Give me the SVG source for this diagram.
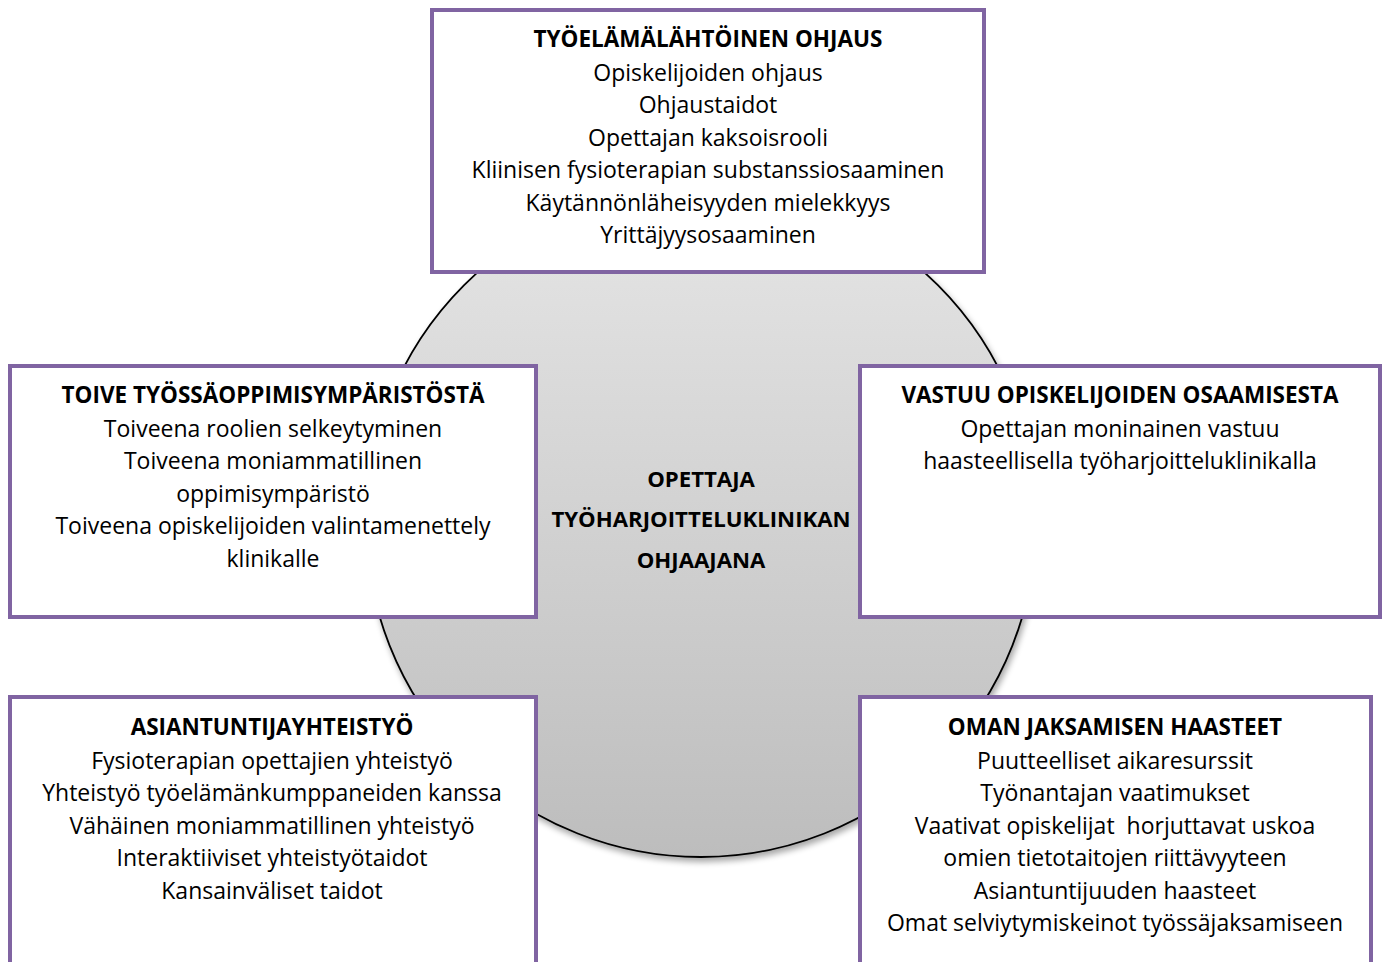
<svg xmlns="http://www.w3.org/2000/svg" width="1386" height="962" viewBox="0 0 1386 962">
  <defs>
    <linearGradient id="discFill" x1="0" y1="0" x2="0" y2="1">
      <stop offset="0" stop-color="#e6e6e6"/>
      <stop offset="1" stop-color="#bdbdbd"/>
    </linearGradient>
    <filter id="discShadow" x="-10%" y="-10%" width="125%" height="125%">
      <feGaussianBlur in="SourceAlpha" stdDeviation="3"/>
      <feOffset dx="2" dy="4" result="blur"/>
      <feComponentTransfer><feFuncA type="linear" slope="0.35"/></feComponentTransfer>
      <feMerge><feMergeNode/><feMergeNode in="SourceGraphic"/></feMerge>
    </filter>
  </defs>
  <style>
    .box { fill: #ffffff; stroke: #8064a2; stroke-width: 4; }
    .txt { font-family: "Open Sans", "Noto Sans", "Liberation Sans", sans-serif; font-size: 23px; fill: #000000; text-anchor: middle; }
    .ttl { font-family: "Open Sans", "Noto Sans", "Liberation Sans", sans-serif; font-size: 22.5px; font-weight: bold; fill: #000000; text-anchor: middle; }
    .mid { font-size: 22.2px; }
  </style>
  <rect width="1386" height="962" fill="#ffffff"/>

  <!-- central disc -->
  <g id="center">
    <circle cx="701" cy="522" r="335" fill="url(#discFill)" stroke="#000000" stroke-width="1.8" filter="url(#discShadow)"/>
    <text class="ttl mid" x="701" y="487">OPETTAJA</text>
    <text class="ttl mid" x="701" y="527">TYÖHARJOITTELUKLINIKAN</text>
    <text class="ttl mid" x="701" y="568">OHJAAJANA</text>
  </g>

  <g id="connectors"></g>

  <!-- top box -->
  <g id="tyoelamalahtoinen-ohjaus">
    <rect class="box" x="432" y="10" width="552" height="262"/>
    <text class="ttl" x="708" y="47">TYÖELÄMÄLÄHTÖINEN OHJAUS</text>
    <text class="txt" x="708" y="81">Opiskelijoiden ohjaus</text>
    <text class="txt" x="708" y="113">Ohjaustaidot</text>
    <text class="txt" x="708" y="146">Opettajan kaksoisrooli</text>
    <text class="txt" x="708" y="178">Kliinisen fysioterapian substanssiosaaminen</text>
    <text class="txt" x="708" y="211">Käytännönläheisyyden mielekkyys</text>
    <text class="txt" x="708" y="243">Yrittäjyysosaaminen</text>
  </g>

  <!-- middle left box -->
  <g id="toive-tyossaoppimisymparistosta">
    <rect class="box" x="10" y="366" width="526" height="251"/>
    <text class="ttl" x="273" y="403">TOIVE TYÖSSÄOPPIMISYMPÄRISTÖSTÄ</text>
    <text class="txt" x="273" y="437">Toiveena roolien selkeytyminen</text>
    <text class="txt" x="273" y="469">Toiveena moniammatillinen</text>
    <text class="txt" x="273" y="502">oppimisympäristö</text>
    <text class="txt" x="273" y="534">Toiveena opiskelijoiden valintamenettely</text>
    <text class="txt" x="273" y="567">klinikalle</text>
  </g>

  <!-- middle right box -->
  <g id="vastuu-opiskelijoiden-osaamisesta">
    <rect class="box" x="860" y="366" width="520" height="251"/>
    <text class="ttl" x="1120" y="403">VASTUU OPISKELIJOIDEN OSAAMISESTA</text>
    <text class="txt" x="1120" y="437">Opettajan moninainen vastuu</text>
    <text class="txt" x="1120" y="469">haasteellisella työharjoitteluklinikalla</text>
  </g>

  <!-- bottom left box -->
  <g id="asiantuntijayhteistyo">
    <rect class="box" x="10" y="697" width="526" height="272"/>
    <text class="ttl" x="272" y="735">ASIANTUNTIJAYHTEISTYÖ</text>
    <text class="txt" x="272" y="769">Fysioterapian opettajien yhteistyö</text>
    <text class="txt" x="272" y="801">Yhteistyö työelämänkumppaneiden kanssa</text>
    <text class="txt" x="272" y="834">Vähäinen moniammatillinen yhteistyö</text>
    <text class="txt" x="272" y="866">Interaktiiviset yhteistyötaidot</text>
    <text class="txt" x="272" y="899">Kansainväliset taidot</text>
  </g>

  <!-- bottom right box -->
  <g id="oman-jaksamisen-haasteet">
    <rect class="box" x="860" y="697" width="511" height="272"/>
    <text class="ttl" x="1115" y="735">OMAN JAKSAMISEN HAASTEET</text>
    <text class="txt" x="1115" y="769">Puutteelliset aikaresurssit</text>
    <text class="txt" x="1115" y="801">Työnantajan vaatimukset</text>
    <text class="txt" x="1115" y="834" xml:space="preserve">Vaativat opiskelijat  horjuttavat uskoa</text>
    <text class="txt" x="1115" y="866">omien tietotaitojen riittävyyteen</text>
    <text class="txt" x="1115" y="899">Asiantuntijuuden haasteet</text>
    <text class="txt" x="1115" y="931">Omat selviytymiskeinot työssäjaksamiseen</text>
  </g>
</svg>
